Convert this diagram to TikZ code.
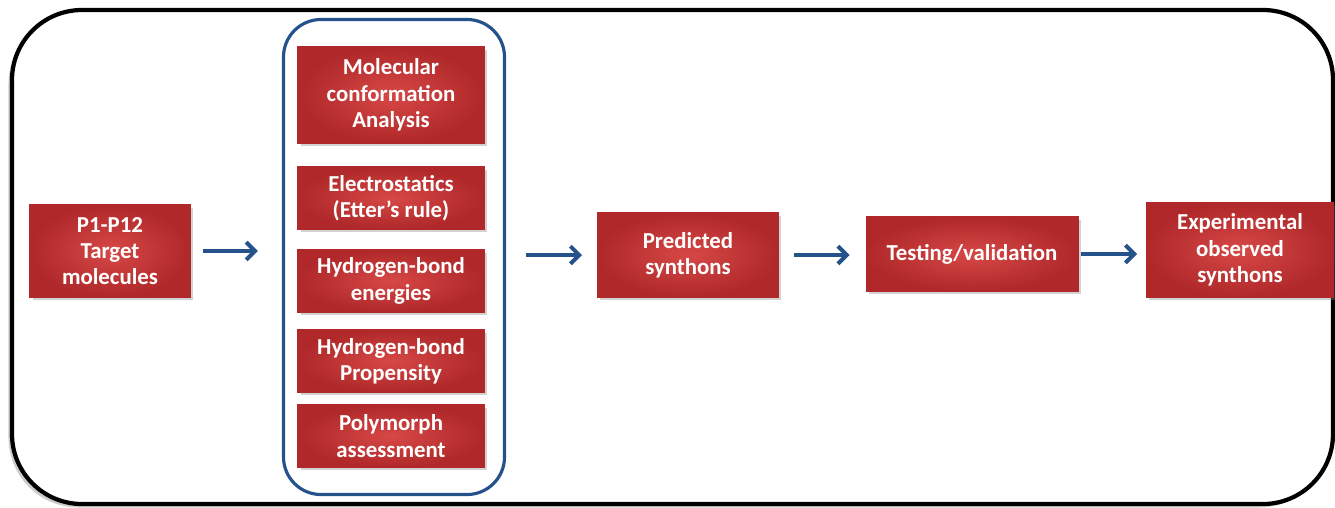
\documentclass[tikz,border=0pt]{standalone}
\usepackage{fontspec}
\setmainfont{Carlito}
\usepackage{tikz}
\usetikzlibrary{arrows.meta, fit, positioning, shadows}
\definecolor{stepred}{RGB}{214, 72, 70}
\definecolor{stepdark}{RGB}{176, 40, 42}
\definecolor{flowblue}{RGB}{38, 82, 140}

\begin{document}
\begin{tikzpicture}[x=0.02cm, y=-0.02cm,
        stepbox/.style={draw=stepdark, line width=0.6pt, inner color=stepred,
                        outer color=stepdark, align=center, text=white,
                        font=\bfseries\fontsize{13}{15}\selectfont,
                        drop shadow={shadow xshift=1.5pt, shadow yshift=-1.5pt, opacity=0.35}},
        flow/.style={-{Straight Barb[length=5pt, width=10pt]}, flowblue, line width=2.3pt}]
    \useasboundingbox (0,0) rectangle (1335,507);
    % outer frame
    \draw[line width=2.4pt, rounded corners=1.4cm, fill=white,
          drop shadow={shadow xshift=-2pt, shadow yshift=-2pt, opacity=0.4}]
        (12,10) rectangle (1333,504);

    \node[stepbox, minimum width=3.2cm, minimum height=1.84cm] (target) at (110,251)
        {P1-P12\\Target\\molecules};

    % analysis steps
    \node[stepbox, minimum width=3.72cm, minimum height=1.92cm] (conf) at (391,95)
        {Molecular\\conformation\\Analysis};
    \node[stepbox, minimum width=3.72cm, minimum height=1.24cm] (elec) at (391,198)
        {Electrostatics\\(Etter’s rule)};
    \node[stepbox, minimum width=3.72cm, minimum height=1.24cm] (energy) at (391,281)
        {Hydrogen-bond\\energies};
    \node[stepbox, minimum width=3.72cm, minimum height=1.24cm] (propensity) at (391,361)
        {Hydrogen-bond\\Propensity};
    \node[stepbox, minimum width=3.72cm, minimum height=1.24cm] (poly) at (391,436)
        {Polymorph\\assessment};
    \node[draw=flowblue, line width=1.8pt, rounded corners=0.75cm, xshift=0.06cm,
          inner xsep=0.34cm, inner ysep=0.54cm, fit=(conf)(poly)] (methods) {};

    \node[stepbox, minimum width=3.62cm, minimum height=1.68cm] (predicted) at (688,255)
        {Predicted\\synthons};
    \node[stepbox, minimum width=4.24cm, minimum height=1.48cm] (testing) at (972,254)
        {Testing/validation};
    \node[stepbox, minimum width=3.74cm, minimum height=1.9cm] (observed) at (1240,250)
        {Experimental\\observed\\synthons};

    \draw[flow] ([xshift=0.24cm]target.east) -- ([xshift=-0.48cm]methods.west |- target.east);
    \draw[flow] ([xshift=0.4cm]methods.east |- predicted.west) -- ([xshift=-0.3cm]predicted.west);
    \draw[flow] ([xshift=0.3cm]predicted.east) -- ([xshift=-0.32cm]testing.west |- predicted.east);
    \draw[flow] ([xshift=0.04cm]testing.east) -- ([xshift=-0.18cm]observed.west |- testing.east);
\end{tikzpicture}
\end{document}
